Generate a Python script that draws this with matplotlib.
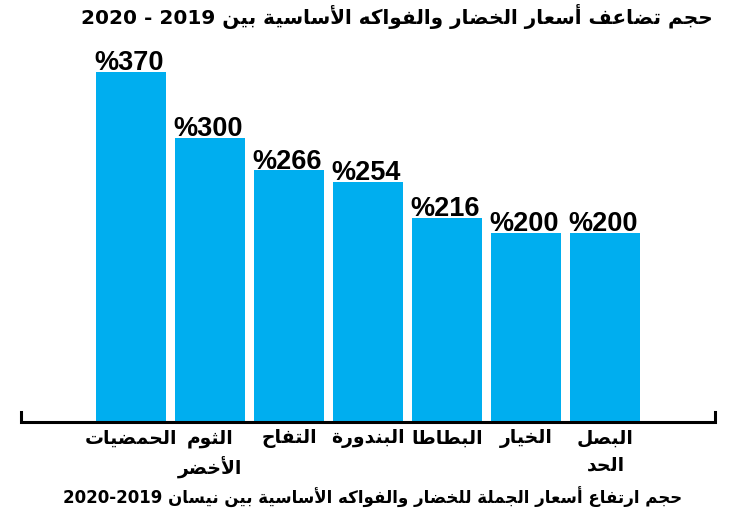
import re
import numpy as np
import matplotlib
matplotlib.use('Agg')
from matplotlib import pyplot as plt

# data (right-to-left chart, listed left to right as drawn)
categories = ['الحمضيات', 'الثوم\nالأخضر', 'التفاح', 'البندورة', 'البطاطا', 'الخيار', 'البصل\nالحد']
values = [370, 300, 266, 254, 216, 200, 200]
title = 'حجم تضاعف أسعار الخضار والفواكه الأساسية بين 2019 - 2020'
caption = 'حجم ارتفاع أسعار الجملة للخضار والفواكه الأساسية بين نيسان 2019-2020'

# simple arabic shaping: (isolated, final, initial, medial)
FORMS = {
    'ا': ('\uFE8D', '\uFE8E', None, None),
    'أ': ('\uFE83', '\uFE84', None, None),
    'ب': ('\uFE8F', '\uFE90', '\uFE91', '\uFE92'),
    'ة': ('\uFE93', '\uFE94', None, None),
    'ت': ('\uFE95', '\uFE96', '\uFE97', '\uFE98'),
    'ث': ('\uFE99', '\uFE9A', '\uFE9B', '\uFE9C'),
    'ج': ('\uFE9D', '\uFE9E', '\uFE9F', '\uFEA0'),
    'ح': ('\uFEA1', '\uFEA2', '\uFEA3', '\uFEA4'),
    'خ': ('\uFEA5', '\uFEA6', '\uFEA7', '\uFEA8'),
    'د': ('\uFEA9', '\uFEAA', None, None),
    'ر': ('\uFEAD', '\uFEAE', None, None),
    'س': ('\uFEB1', '\uFEB2', '\uFEB3', '\uFEB4'),
    'ص': ('\uFEB9', '\uFEBA', '\uFEBB', '\uFEBC'),
    'ض': ('\uFEBD', '\uFEBE', '\uFEBF', '\uFEC0'),
    'ط': ('\uFEC1', '\uFEC2', '\uFEC3', '\uFEC4'),
    'ع': ('\uFEC9', '\uFECA', '\uFECB', '\uFECC'),
    'ف': ('\uFED1', '\uFED2', '\uFED3', '\uFED4'),
    'ك': ('\uFED9', '\uFEDA', '\uFEDB', '\uFEDC'),
    'ل': ('\uFEDD', '\uFEDE', '\uFEDF', '\uFEE0'),
    'م': ('\uFEE1', '\uFEE2', '\uFEE3', '\uFEE4'),
    'ن': ('\uFEE5', '\uFEE6', '\uFEE7', '\uFEE8'),
    'ه': ('\uFEE9', '\uFEEA', '\uFEEB', '\uFEEC'),
    'و': ('\uFEED', '\uFEEE', None, None),
    'ي': ('\uFEF1', '\uFEF2', '\uFEF3', '\uFEF4'),
}
LAM_ALEF = {'ا': ('\uFEFB', '\uFEFC'), 'أ': ('\uFEF7', '\uFEF8')}


def shape_line(s):
    out = []
    i = 0
    n = len(s)
    while i < n:
        c = s[i]
        if c not in FORMS:
            out.append(c)
            i += 1
            continue
        prev = s[i-1] if i > 0 else ''
        join_prev = prev in FORMS and FORMS[prev][2] is not None
        if c == 'ل' and i + 1 < n and s[i+1] in LAM_ALEF:
            iso, fin = LAM_ALEF[s[i+1]]
            out.append(fin if join_prev else iso)
            i += 2
            continue
        nxt = s[i+1] if i + 1 < n else ''
        iso, fin, ini, med = FORMS[c]
        join_next = nxt in FORMS and ini is not None
        if join_prev and join_next:
            out.append(med)
        elif join_prev:
            out.append(fin)
        elif join_next:
            out.append(ini)
        else:
            out.append(iso)
        i += 1
    vis = ''.join(out)[::-1]
    return re.sub(r'[0-9]+', lambda m: m.group(0)[::-1], vis)


def ar(s):
    return '\n'.join(shape_line(l) for l in s.split('\n'))


blue = '#00AEEF'
arfont = ['DejaVu Sans']
numfont = ['Liberation Sans', 'DejaVu Sans']

fig = plt.figure(figsize=(7.45, 5.22), dpi=100)
W, H = 745, 522
# axes from x=21..715 px, baseline at y=422 px, top at y=60 px
ax = fig.add_axes([21 / W, (H - 422) / H, (715 - 21) / W, (422 - 60) / H])

x = np.arange(len(values))
pitch = 79.08
ax.set_xlim((21 - 131) / pitch, (715 - 131) / pitch)
ax.set_ylim(0, 362 / 0.946)

bars = ax.bar(x, values, width=0.885, color=blue, zorder=2)
for b, v in zip(bars, values):
    ax.annotate('%' + str(v), (b.get_x() + b.get_width() / 2, v), xytext=(-1.5, -3),
                textcoords='offset points', ha='center', va='bottom',
                fontsize=19.5, fontweight='bold', family=numfont)

for s in ax.spines.values():
    s.set_visible(False)
ax.set_yticks([])
ax.set_xticks(x, [ar(c) for c in categories])
ax.tick_params(axis='x', length=0, pad=5)
for t in ax.get_xticklabels():
    t.set_fontsize(13.5)
    t.set_fontweight('bold')
    t.set_family(arfont)
    t.set_linespacing(1.5)

# baseline with small raised ends
ax.plot([0, 0, 1, 1], [0.028, 0, 0, 0.028], transform=ax.transAxes,
        color='black', lw=2.2, clip_on=False, zorder=3, solid_joinstyle='miter')

fig.text(713 / W, 1 - 16 / H, ar(title), ha='right', va='center',
         fontsize=14.4, fontweight='bold', family=arfont)
fig.text(0.5, 1 - 497 / H, ar(caption), ha='center', va='center',
         fontsize=12, fontweight='bold', family=arfont)

fig.savefig('out.png', dpi=100)
